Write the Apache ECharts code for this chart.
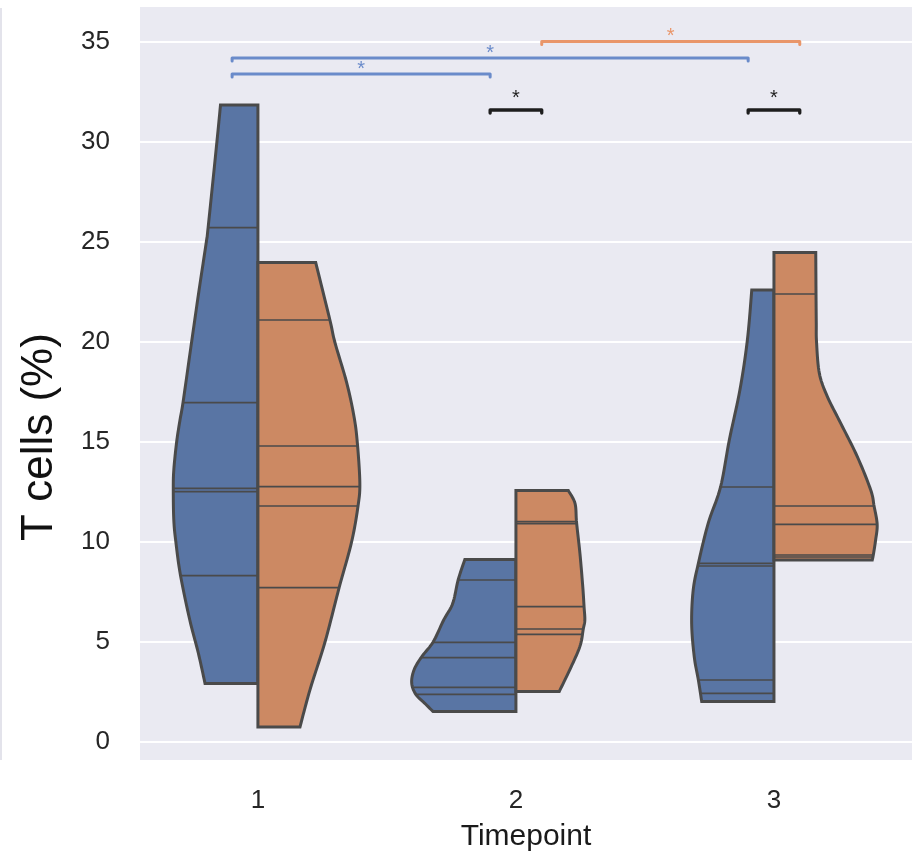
<!DOCTYPE html>
<html>
<head>
<meta charset="utf-8">
<script src="https://cdn.jsdelivr.net/npm/echarts@6/dist/echarts.min.js"></script>
<style>
html,body{margin:0;padding:0;background:#fff;}
#chart{width:912px;height:857px;}
</style>
</head>
<body>
<div id="chart"></div>
<script>
// ---------------- data ----------------
const categories = ['1', '2', '3'];
const yTicks = [0, 5, 10, 15, 20, 25, 30, 35];

// observations (T cells %) per timepoint, group A (blue) and group B (orange)
const obsA = [
  [31.85, 25.72, 16.97, 12.68, 12.52, 8.32, 2.93],
  [9.13, 8.1, 4.98, 4.22, 2.73, 2.38, 1.52],
  [22.6, 12.75, 8.93, 8.8, 3.1, 2.43, 2.02]
];
const obsB = [
  [23.97, 21.1, 14.8, 12.77, 11.8, 7.72, 0.75],
  [12.57, 11.02, 10.92, 6.77, 5.65, 5.38, 2.53],
  [24.47, 22.4, 11.8, 10.88, 9.35, 9.25, 9.1]
];

// violin density outline: levels (T cells %) and half-widths (timepoint units)
const densLevelsA = [
  [31.85, 30, 25.72, 25, 22.6, 20, 17, 16.1, 15, 13.6, 12.6, 11.1, 10, 8.33, 6.1, 4.45, 2.93],
  [9.13, 8.1, 6.93, 6.1, 5.0, 4.25, 3.6, 2.95, 2.38, 1.93, 1.52],
  [22.6, 20.1, 17.6, 15.1, 12.75, 10.93, 8.93, 7.6, 5.93, 4.27, 3.1, 2.02]
];
const densWidthsA = [
  [0.145, 0.159, 0.193, 0.2, 0.228, 0.257, 0.29, 0.302, 0.315, 0.326, 0.328, 0.326, 0.318, 0.3, 0.264, 0.231, 0.205],
  [0.198, 0.224, 0.245, 0.28, 0.321, 0.366, 0.395, 0.404, 0.388, 0.353, 0.321],
  [0.086, 0.103, 0.132, 0.173, 0.207, 0.255, 0.293, 0.313, 0.319, 0.309, 0.293, 0.28]
];
const densLevelsB = [
  [23.97, 21.1, 20, 17.97, 16.3, 15, 12.97, 11.8, 10, 7.73, 5, 2.62, 0.75],
  [12.57, 11.93, 10.97, 9.43, 7.77, 6.77, 6.1, 5.65, 4.78, 3.62, 2.53],
  [24.47, 22.4, 20.93, 20, 18.43, 17.27, 15.93, 14.27, 12.6, 11.8, 10.88, 10.1, 9.35, 9.1]
];
const densWidthsB = [
  [0.224, 0.279, 0.298, 0.344, 0.372, 0.385, 0.395, 0.388, 0.363, 0.315, 0.26, 0.202, 0.163],
  [0.203, 0.229, 0.235, 0.248, 0.259, 0.264, 0.267, 0.261, 0.248, 0.209, 0.168],
  [0.162, 0.163, 0.164, 0.165, 0.176, 0.207, 0.259, 0.323, 0.375, 0.388, 0.4, 0.394, 0.385, 0.381]
];

// significance brackets: [timepoint index, group]
const bracketFrom  = [[0, 'A'], [0, 'A'], [1, 'B'], [1, 'A'], [2, 'A']];
const bracketTo    = [[1, 'A'], [2, 'A'], [2, 'B'], [1, 'B'], [2, 'B']];
const bracketLevel = [33.4, 34.2, 35.02, 31.6, 31.6];
const bracketText  = ['*', '*', '*', '*', '*'];

// ---------------- styles ----------------
const FILL_A = '#5975a4', FILL_B = '#cc8963', EDGE = '#4a4a4a';
const BR_COLOR = {A: '#6a8bca', B: '#e9966a', AB: '#1e1e1e'};
const HUE_OFFSET = {A: -0.1, B: 0.1};
const FONT = 'Liberation Sans';

function interp(levels, widths, v) {
  for (let k = 0; k < levels.length - 1; k++) {
    const a = levels[k], b = levels[k + 1];
    if ((v <= a && v >= b)) {
      const t = (a === b) ? 0 : (v - a) / (b - a);
      return widths[k] + t * (widths[k + 1] - widths[k]);
    }
  }
  return v > levels[0] ? widths[0] : widths[widths.length - 1];
}

// Catmull-Rom smoothing of an outline (pixel space) for drawing only
function smoothPts(P, steps) {
  const out = [];
  const n = P.length;
  for (let i = 0; i < n - 1; i++) {
    const p0 = P[Math.max(i - 1, 0)], p1 = P[i], p2 = P[i + 1], p3 = P[Math.min(i + 2, n - 1)];
    for (let s = 0; s < steps; s++) {
      const t = s / steps, t2 = t * t, t3 = t2 * t;
      const f = function (a, b, c, d) {
        return 0.5 * ((2 * b) + (-a + c) * t + (2 * a - 5 * b + 4 * c - d) * t2 + (-a + 3 * b - 3 * c + d) * t3);
      };
      out.push([f(p0[0], p1[0], p2[0], p3[0]), f(p0[1], p1[1], p2[1], p3[1])]);
    }
  }
  out.push(P[n - 1]);
  return out;
}

function violinRender(obs, lev, wid, sign, fill) {
  return function (params, api) {
    const i = api.value(0);
    const L = lev[i], W = wid[i], O = obs[i];
    const top = Math.max.apply(null, O), bot = Math.min.apply(null, O);
    const edge = [];
    for (let k = 0; k < L.length; k++) edge.push(api.coord([i + sign * W[k], L[k]]));
    const pts = [api.coord([i, bot]), api.coord([i, top])].concat(smoothPts(edge, 10));
    const children = [{
      type: 'polygon', shape: {points: pts},
      style: {fill: fill, stroke: null}
    }];
    O.forEach(function (v) {
      const w = interp(L, W, v);
      const p0 = api.coord([i, v]), p1 = api.coord([i + sign * w, v]);
      children.push({
        type: 'line', shape: {x1: p0[0], y1: p0[1], x2: p1[0], y2: p1[1]},
        style: {stroke: EDGE, lineWidth: 1.6}
      });
    });
    children.push({
      type: 'polygon', shape: {points: pts},
      style: {fill: 'none', stroke: EDGE, lineWidth: 3, lineJoin: 'miter'}
    });
    return {type: 'group', children: children};
  };
}

function bracketRender(params, api) {
  const j = params.dataIndex;
  const f = bracketFrom[j], t = bracketTo[j];
  const x1 = f[0] + HUE_OFFSET[f[1]], x2 = t[0] + HUE_OFFSET[t[1]];
  const lvl = bracketLevel[j];
  const key = f[1] === t[1] ? f[1] : 'AB';
  const col = BR_COLOR[key];
  const a = api.coord([x1, lvl]), b = api.coord([x2, lvl]);
  const tip = 3;
  const gap = key === 'AB' ? 12 : 5;
  return {
    type: 'group', children: [
      {type: 'polyline', shape: {points: [[a[0], a[1] + tip], a, b, [b[0], b[1] + tip]]},
        style: {stroke: col, lineWidth: key === 'AB' ? 3.3 : 3, lineCap: 'round', lineJoin: 'round', fill: 'none'}},
      {type: 'text', x: (a[0] + b[0]) / 2, y: a[1] - gap,
        style: {text: bracketText[j], fill: col, fontSize: 20, fontFamily: FONT, align: 'center', verticalAlign: 'middle'}}
    ]
  };
}

const chart = echarts.init(document.getElementById('chart'), null, {renderer: 'canvas'});
const idx = categories.map(function (c, i) { return [i]; });

chart.setOption({
  animation: false,
  backgroundColor: '#ffffff',
  grid: {left: 140, right: 0, top: 7, bottom: 97, show: true, backgroundColor: '#eaeaf2', borderWidth: 0},
  xAxis: {
    type: 'value', min: -0.457, max: 2.535,
    axisLine: {show: false}, axisTick: {show: false, customValues: [0, 1, 2]}, splitLine: {show: false},
    axisLabel: {customValues: [0, 1, 2], formatter: function (v) { return categories[Math.round(v)]; },
      fontSize: 26, fontFamily: FONT, color: '#262626', margin: 28},
    name: 'Timepoint', nameLocation: 'middle', nameGap: 62,
    nameTextStyle: {fontSize: 30, fontFamily: FONT, color: '#1a1a1a'}
  },
  yAxis: {
    type: 'value', min: -0.9, max: 36.75,
    axisLine: {show: false}, axisTick: {show: false, customValues: yTicks},
    splitLine: {show: true, lineStyle: {color: '#ffffff', width: 2}},
    axisLabel: {customValues: yTicks, fontSize: 26, fontFamily: FONT, color: '#262626', margin: 30}
  },
  graphic: [
    {type: 'text', x: 40, y: 437, rotation: Math.PI / 2,
      style: {text: 'T cells (%)', fontSize: 44, fontFamily: FONT, fill: '#111111', align: 'center', verticalAlign: 'middle'}},
    {type: 'line', shape: {x1: 1, y1: 8, x2: 1, y2: 760}, style: {stroke: '#e3e3eb', lineWidth: 2}}
  ],
  series: [
    {type: 'custom', name: 'A', data: idx, renderItem: violinRender(obsA, densLevelsA, densWidthsA, -1, FILL_A), z: 2},
    {type: 'custom', name: 'B', data: idx, renderItem: violinRender(obsB, densLevelsB, densWidthsB, 1, FILL_B), z: 3},
    {type: 'custom', name: 'brackets', data: bracketLevel.map(function (v, j) { return [j]; }), renderItem: bracketRender, z: 4}
  ]
});
</script>
</body>
</html>
